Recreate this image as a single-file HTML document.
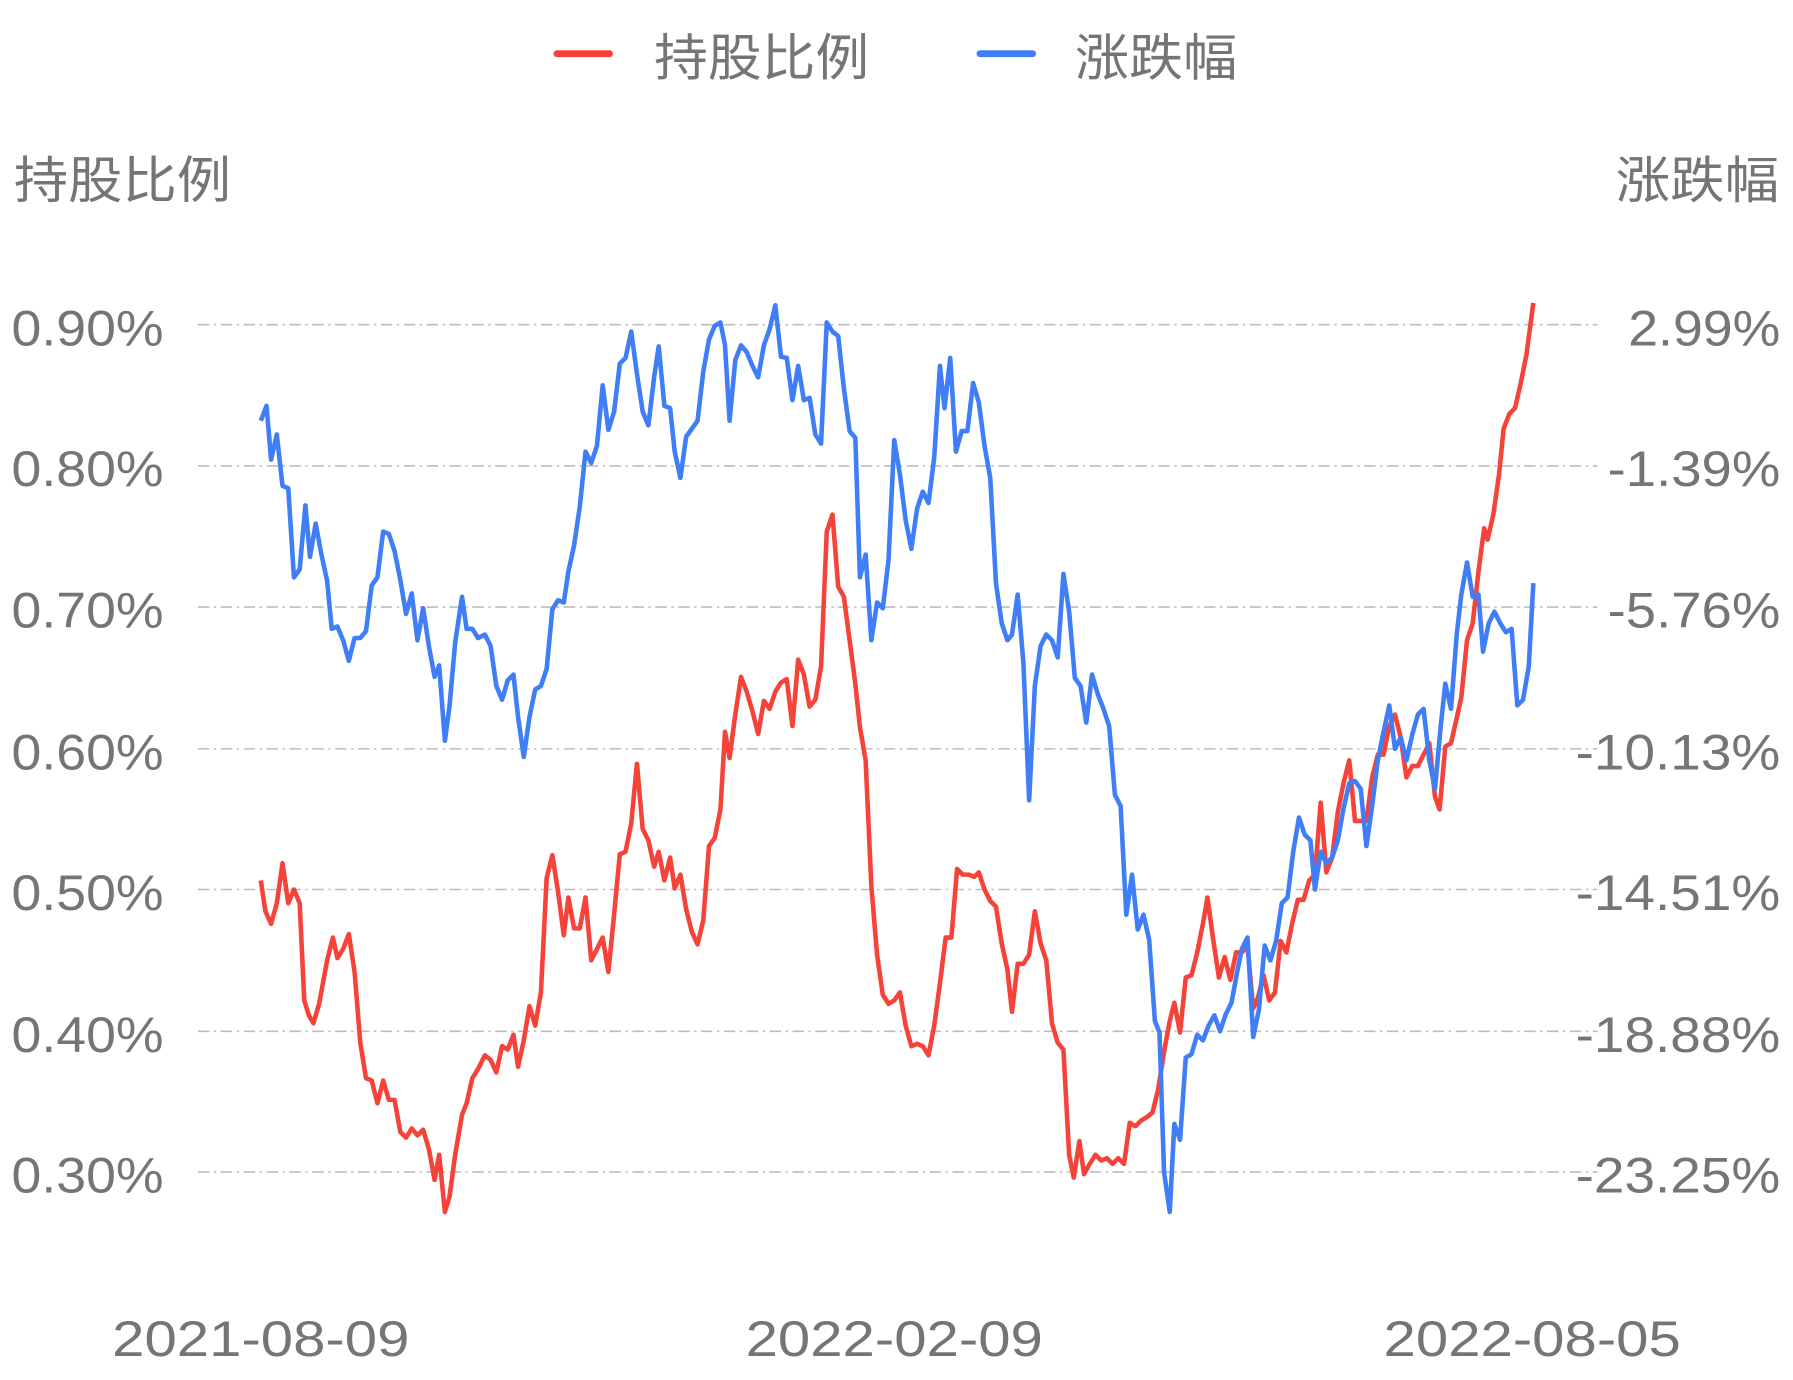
<!DOCTYPE html>
<html><head><meta charset="utf-8"><style>
html,body{margin:0;padding:0;background:#fff;width:1793px;height:1380px;overflow:hidden}
svg{display:block}
text{font-family:"Liberation Sans","Noto Sans CJK SC",sans-serif;fill:#757575}
</style></head><body>
<svg width="1793" height="1380" viewBox="0 0 1568 1207" xmlns="http://www.w3.org/2000/svg">
<g stroke="#bdbdbd" stroke-width="1.4" stroke-dasharray="10,4,2,4">
<line x1="173" y1="284" x2="1397" y2="284"/>
<line x1="173" y1="407.5" x2="1397" y2="407.5"/>
<line x1="173" y1="531" x2="1397" y2="531"/>
<line x1="173" y1="655" x2="1397" y2="655"/>
<line x1="173" y1="778" x2="1397" y2="778"/>
<line x1="173" y1="902" x2="1397" y2="902"/>
<line x1="173" y1="1025" x2="1397" y2="1025"/>
</g>
<g font-size="44">
<text x="10" y="302" textLength="133" lengthAdjust="spacingAndGlyphs">0.90%</text>
<text x="10" y="425" textLength="133" lengthAdjust="spacingAndGlyphs">0.80%</text>
<text x="10" y="549" textLength="133" lengthAdjust="spacingAndGlyphs">0.70%</text>
<text x="10" y="673" textLength="133" lengthAdjust="spacingAndGlyphs">0.60%</text>
<text x="10" y="796" textLength="133" lengthAdjust="spacingAndGlyphs">0.50%</text>
<text x="10" y="920" textLength="133" lengthAdjust="spacingAndGlyphs">0.40%</text>
<text x="10" y="1043" textLength="133" lengthAdjust="spacingAndGlyphs">0.30%</text>
<text x="1424" y="302" textLength="133" lengthAdjust="spacingAndGlyphs">2.99%</text>
<text x="1406" y="425" textLength="151" lengthAdjust="spacingAndGlyphs">-1.39%</text>
<text x="1406" y="549" textLength="151" lengthAdjust="spacingAndGlyphs">-5.76%</text>
<text x="1378" y="673" textLength="179" lengthAdjust="spacingAndGlyphs">-10.13%</text>
<text x="1378" y="796" textLength="179" lengthAdjust="spacingAndGlyphs">-14.51%</text>
<text x="1378" y="920" textLength="179" lengthAdjust="spacingAndGlyphs">-18.88%</text>
<text x="1378" y="1043" textLength="179" lengthAdjust="spacingAndGlyphs">-23.25%</text>
<text x="98" y="1186" textLength="260" lengthAdjust="spacingAndGlyphs">2021-08-09</text>
<text x="652" y="1186" textLength="260" lengthAdjust="spacingAndGlyphs">2022-02-09</text>
<text x="1210" y="1186" textLength="260" lengthAdjust="spacingAndGlyphs">2022-08-05</text>
<text x="12" y="173" textLength="190" lengthAdjust="spacingAndGlyphs">持股比例</text>
<text x="1413" y="173" textLength="143" lengthAdjust="spacingAndGlyphs">涨跌幅</text>
<text x="572" y="66" textLength="188" lengthAdjust="spacingAndGlyphs">持股比例</text>
<text x="940" y="66" textLength="142" lengthAdjust="spacingAndGlyphs">涨跌幅</text>
</g>
<line x1="487" y1="47" x2="533" y2="47" stroke="#f5433a" stroke-width="6" stroke-linecap="round"/>
<line x1="857" y1="47" x2="903" y2="47" stroke="#3f7ef7" stroke-width="6" stroke-linecap="round"/>
<g fill="none" stroke-width="4" stroke-linejoin="round">
<polyline stroke="#f5433a" points="228,770 232,797 237,808 242,790 247,755 252,790 257,778 262,790 266,875 270,888 274,895 279,878 286,840 291,820 295,838 300,830 305,817 310,850 315,912 320,943 325,945 330,965 335,945 340,962 345,962 350,990 355,995 360,987 365,993 370,988 375,1005 380,1032 384,1010 389,1060 393,1047 398,1010 404,975 408,965 413,943 418,935 424,923 429,927 434,938 439,915 444,918 449,905 453,933 458,910 463,880 468,897 473,868 478,768 483,748 488,780 493,818 497,785 502,812 507,812 512,785 517,840 522,830 527,820 532,850 537,800 542,747 547,745 552,720 557,668 562,725 567,735 572,758 576,745 581,770 586,750 590,777 595,765 600,795 605,815 610,826 615,805 620,740 625,733 630,708 634,640 638,663 643,625 648,592 653,605 658,622 663,642 668,613 673,620 678,605 683,597 688,594 693,635 698,577 703,590 708,618 713,612 718,583 723,465 728,450 733,513 738,522 743,560 748,598 752,636 757,665 762,775 767,835 772,870 777,878 782,875 787,868 792,897 797,915 802,913 807,915 812,923 817,897 822,860 827,820 832,820 837,760 842,765 847,765 852,767 856,763 861,778 866,788 871,793 876,825 881,848 885,885 890,843 895,843 900,835 905,797 910,825 915,840 920,895 925,912 930,918 935,1010 939,1030 944,998 948,1027 953,1018 958,1010 963,1015 968,1013 973,1018 978,1013 983,1018 988,982 993,985 998,980 1003,977 1008,973 1013,952 1018,920 1023,893 1027,877 1032,903 1037,855 1042,853 1047,833 1052,808 1056,785 1061,822 1066,855 1071,837 1076,857 1081,833 1086,833 1091,828 1096,882 1100,873 1105,853 1110,875 1115,868 1120,823 1125,833 1130,808 1135,787 1140,787 1145,770 1150,765 1155,702 1160,763 1165,750 1170,710 1175,685 1180,665 1185,718 1190,718 1195,718 1200,680 1205,660 1210,660 1215,635 1220,625 1225,645 1230,680 1235,670 1240,670 1245,660 1250,650 1255,697 1259,708 1264,653 1269,650 1274,628 1278,610 1283,560 1288,545 1293,500 1298,462 1301,472 1306,450 1311,415 1315,375 1320,362 1325,357 1330,335 1335,310 1341,265"/>
<polyline stroke="#3f7ef7" points="228,368 233,355 237,402 242,380 247,425 252,427 257,505 262,498 267,442 271,487 276,458 281,485 286,508 290,550 295,548 300,560 305,578 310,558 315,558 320,552 325,512 330,505 335,465 340,467 345,482 350,507 355,537 360,519 365,560 370,532 375,565 380,592 384,582 389,648 393,618 398,562 404,522 408,550 413,550 418,558 424,555 429,565 434,600 439,612 444,595 449,590 453,627 458,662 463,627 468,603 473,600 478,585 483,533 488,525 493,527 497,500 502,477 507,443 512,395 517,405 522,390 527,337 532,376 537,360 542,318 547,313 552,290 557,327 562,360 567,372 572,330 576,303 581,355 586,357 590,395 595,418 600,382 605,375 610,368 615,325 620,297 625,285 630,282 634,302 638,368 643,315 648,302 653,308 658,320 663,330 668,302 673,288 678,267 683,312 688,313 693,350 698,320 703,350 708,348 713,380 718,388 723,282 728,290 733,294 738,340 743,377 748,383 752,505 757,485 762,560 767,527 772,532 777,490 782,385 787,415 792,455 797,480 802,445 807,430 812,440 817,400 822,320 826,357 831,313 836,395 841,377 846,377 851,335 856,352 861,390 866,418 871,510 876,545 881,560 885,555 890,520 895,580 900,700 905,600 910,565 915,555 920,560 925,575 930,502 935,535 940,593 945,600 950,632 955,590 960,607 965,620 970,635 975,695 980,705 985,800 990,765 995,813 1000,800 1005,822 1010,893 1014,903 1018,1025 1023,1060 1027,983 1032,997 1037,925 1042,922 1047,905 1052,910 1057,897 1062,888 1067,902 1072,887 1077,877 1082,850 1086,830 1091,820 1096,907 1101,883 1106,827 1111,840 1116,823 1121,790 1126,785 1131,745 1136,715 1141,730 1146,735 1150,778 1155,745 1160,755 1165,750 1170,735 1175,707 1180,685 1185,683 1190,690 1195,740 1200,705 1205,665 1210,640 1215,617 1220,655 1225,645 1230,665 1235,643 1240,625 1245,620 1250,665 1255,690 1260,635 1264,598 1269,620 1274,555 1278,520 1283,492 1288,522 1293,520 1297,570 1302,545 1307,535 1312,545 1317,553 1322,550 1327,617 1332,612 1337,583 1341,510"/>
</g>
</svg>
</body></html>
